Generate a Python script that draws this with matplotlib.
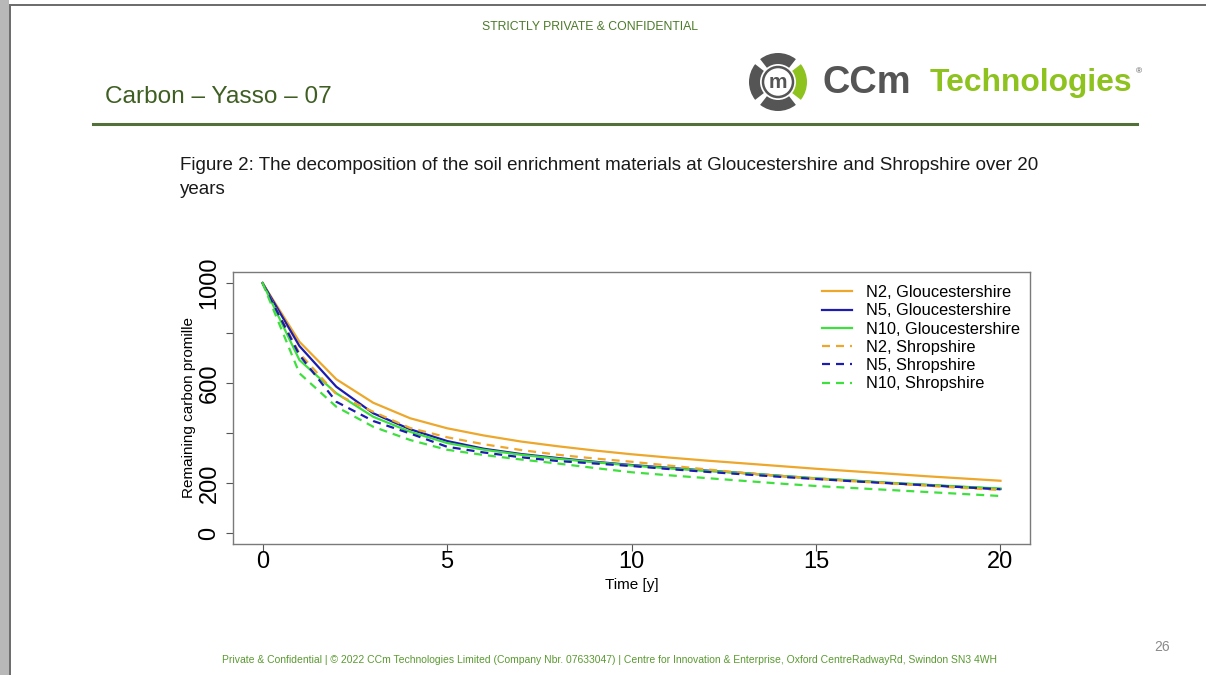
import matplotlib
matplotlib.use("Agg")
import matplotlib.pyplot as plt
from matplotlib import font_manager
from matplotlib.patches import Wedge, Circle, Rectangle

# remaining carbon (promille) per year, Yasso07 runs
years = list(range(21))
n2_glouc = [1000, 765, 615, 521, 459, 419, 390, 366, 347, 330, 315,
            302, 290, 279, 268, 257, 247, 237, 227, 218, 209]
n5_glouc = [1000, 748, 585, 479, 415, 368, 337, 316, 300, 285, 272,
            261, 250, 240, 229, 218, 209, 200, 192, 184, 176]
n10_glouc = [1000, 692, 559, 465, 405, 360, 333, 313, 297, 283, 270,
             259, 249, 240, 229, 219, 210, 201, 193, 185, 178]
n2_shrop = [1000, 719, 555, 485, 420, 383, 355, 332, 313, 298, 285,
            270, 255, 241, 228, 217, 207, 198, 189, 180, 172]
n5_shrop = [1000, 712, 525, 448, 398, 345, 322, 303, 288, 278, 268,
            256, 245, 235, 225, 216, 207, 199, 191, 183, 175]
n10_shrop = [1000, 639, 505, 425, 372, 333, 312, 294, 278, 260, 243,
             231, 220, 209, 198, 188, 180, 172, 164, 156, 148]

series = [
    ("N2, Gloucestershire", n2_glouc, "#eda72a", "-"),
    ("N5, Gloucestershire", n5_glouc, "#1c1cb0", "-"),
    ("N10, Gloucestershire", n10_glouc, "#3ee03e", "-"),
    ("N2, Shropshire", n2_shrop, "#eda72a", (0, (3.6, 2.7))),
    ("N5, Shropshire", n5_shrop, "#1c1cb0", (0, (3.6, 2.7))),
    ("N10, Shropshire", n10_shrop, "#3ee03e", (0, (3.6, 2.7))),
]

installed = {f.name for f in font_manager.fontManager.ttflist}
narrow = "Liberation Sans"
for name in ["Liberation Sans Narrow", "DejaVu Sans Condensed"]:
    if name in installed:
        narrow = name
        break
arial = "Liberation Sans"

W, H = 1206, 675
fig = plt.figure(figsize=(W / 100, H / 100), dpi=100)
fig.patch.set_facecolor("white")
renderer = fig.canvas.get_renderer()

# page decorations drawn in pixel units
page = fig.add_axes([0, 0, 1, 1])
page.set_xlim(0, W)
page.set_ylim(H, 0)
page.axis("off")


def fit_text(x, y, s, width, size, **kw):
    # shrink the font until the string spans the given pixel width
    t = page.text(x, y, s, fontsize=size, **kw)
    w = t.get_window_extent(renderer).width
    t.set_fontsize(size * width / w)
    return t


page.add_patch(Rectangle((0, 0), 9, H, color="#b8b8b8", lw=0))
page.add_patch(Rectangle((9, 4), 2, H, color="#6e6e6e", lw=0))
page.add_patch(Rectangle((9, 4), W, 2, color="#6e6e6e", lw=0))

fit_text(590, 27, "STRICTLY PRIVATE & CONFIDENTIAL", 216, 10, family=narrow,
         color="#4a7a28", ha="center", va="center")
fit_text(105, 97, "Carbon \u2013 Yasso \u2013 07", 227, 20, family=narrow,
         color="#3f5f22", ha="left", va="center")
page.plot([93, 1137], [124, 124], color="#52703a", lw=2.2)

# logo
cx, cy = 778, 82
gray = "#555555"
lime = "#8dc21f"
for t1, t2, c in [(-38, 38, lime), (52, 128, gray), (142, 218, gray), (232, 308, gray)]:
    page.add_patch(Wedge((cx, cy), 29, t1, t2, width=11, color=c, lw=0))
page.add_patch(Circle((cx, cy), 15, facecolor="white", edgecolor=gray, lw=1.8))
page.text(cx, cy + 1, "m", family=arial, weight="bold", fontsize=15, color=gray,
          ha="center", va="center")
tech = fit_text(930, 83, "Technologies", 202, 28, family=narrow, weight="bold",
                color=lime, ha="left", va="center")
page.text(822, 83, "CCm", family=narrow, weight="bold", fontsize=tech.get_fontsize() * 1.2,
          color=gray, ha="left", va="center")
page.text(1136, 72, "\u00ae", family=arial, fontsize=6, color=gray, ha="left", va="center")

fit_text(180, 166, "Figure 2: The decomposition of the soil enrichment materials at "
         "Gloucestershire and Shropshire over 20", 857, 13, family=arial,
         color="#1a1a1a", ha="left", va="center")
cap2 = page.texts[-1].get_fontsize()
page.text(180, 190, "years", family=arial, fontsize=cap2, color="#1a1a1a",
          ha="left", va="center")

fit_text(222, 660, "Private & Confidential | \u00a9 2022 CCm Technologies Limited "
         "(Company Nbr. 07633047) | Centre for Innovation & Enterprise, Oxford "
         "CentreRadwayRd, Swindon SN3 4WH", 781, 8, family=narrow,
         color="#5a9a30", ha="left", va="center")
page.text(1162, 647, "26", family=arial, fontsize=10, color="#8a8a8a",
          ha="center", va="center")

# the decomposition chart
ax = fig.add_axes([233 / W, 1 - 544 / H, (1030 - 233) / W, (544 - 272) / H])
for label, vals, col, ls in series:
    ax.plot(years, vals, color=col, ls=ls, lw=1.6, label=label)

ax.set_xlim(-0.8, 20.8)
ax.set_ylim(-44, 1044)
ax.set_xticks([0, 5, 10, 15, 20])
ax.set_yticks([0, 200, 400, 600, 800, 1000])
ax.set_yticklabels(["0", "200", "", "600", "", "1000"], rotation=90, va="center")
ax.tick_params(axis="both", direction="out", length=5, width=0.8, color="#555555",
               labelsize=17, labelcolor="black")
ax.tick_params(axis="x", pad=0)
ax.tick_params(axis="y", pad=4)
for lab in ax.get_xticklabels() + ax.get_yticklabels():
    lab.set_family(arial)
for sp in ax.spines.values():
    sp.set_color("#7a7a7a")
    sp.set_linewidth(1.0)

ax.set_xlabel("Time [y]", family=arial, fontsize=11, labelpad=4)
ax.set_ylabel("Remaining carbon promille", family=arial, fontsize=11, labelpad=2)

ax.legend(loc="upper left", bbox_to_anchor=((822 - 233) / 797, (544 - 285) / 272),
          frameon=False, prop={"family": arial, "size": 11.8}, handlelength=1.8,
          handletextpad=0.9, labelspacing=0.2, borderpad=0, borderaxespad=0)

fig.savefig("out.png", dpi=100, facecolor="white")
